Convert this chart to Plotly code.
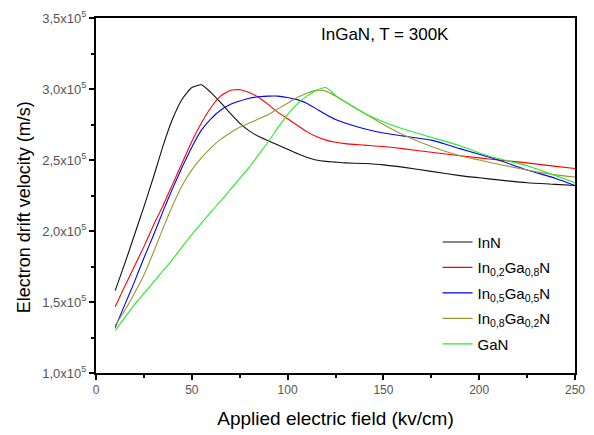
import plotly.graph_objects as go

# Electron drift velocity vs applied field for InGaN alloys at 300 K
# velocities in units of 1e5 m/s
field = [10, 15, 20, 25, 30, 35, 40, 45, 50, 55, 60, 65, 70, 75, 80, 85, 90, 95, 100,
         105, 110, 115, 120, 125, 130, 140, 150, 160, 175, 190, 200, 210, 225, 240, 250]

v_inn = [1.58, 1.77, 1.97, 2.17, 2.38, 2.60, 2.79, 2.93, 3.01, 3.03, 2.975, 2.905, 2.83,
         2.76, 2.705, 2.665, 2.635, 2.605, 2.575, 2.545, 2.52, 2.50, 2.49, 2.485, 2.48,
         2.475, 2.466, 2.45, 2.42, 2.39, 2.375, 2.36, 2.34, 2.328, 2.32]

v_in02 = [1.466, 1.61, 1.75, 1.89, 2.04, 2.18, 2.33, 2.48, 2.63, 2.76, 2.87, 2.95, 2.99,
          2.995, 2.975, 2.94, 2.89, 2.835, 2.79, 2.745, 2.70, 2.665, 2.64, 2.625, 2.615,
          2.605, 2.595, 2.58, 2.555, 2.53, 2.515, 2.50, 2.48, 2.455, 2.44]

v_in05 = [1.32, 1.48, 1.64, 1.81, 1.97, 2.14, 2.30, 2.45, 2.59, 2.71, 2.79, 2.85, 2.89,
          2.915, 2.935, 2.945, 2.95, 2.95, 2.94, 2.925, 2.90, 2.86, 2.82, 2.785, 2.76,
          2.72, 2.69, 2.67, 2.64, 2.58, 2.54, 2.50, 2.43, 2.37, 2.32]

v_in08 = [1.335, 1.44, 1.56, 1.69, 1.85, 2.02, 2.18, 2.32, 2.43, 2.515, 2.585, 2.645, 2.69,
          2.73, 2.76, 2.79, 2.82, 2.86, 2.90, 2.94, 2.97, 2.99, 2.985, 2.95, 2.91, 2.83,
          2.75, 2.68, 2.595, 2.53, 2.50, 2.47, 2.43, 2.395, 2.38]

v_gan = [1.30, 1.39, 1.48, 1.56, 1.64, 1.72, 1.80, 1.89, 1.975, 2.055, 2.135, 2.21, 2.29,
         2.37, 2.45, 2.54, 2.63, 2.73, 2.82, 2.895, 2.95, 2.99, 3.01, 2.955, 2.91, 2.83,
         2.77, 2.72, 2.66, 2.60, 2.55, 2.51, 2.46, 2.39, 2.34]

series_names = ["InN",
                "In<sub>0,2</sub>Ga<sub>0,8</sub>N",
                "In<sub>0,5</sub>Ga<sub>0,5</sub>N",
                "In<sub>0,8</sub>Ga<sub>0,2</sub>N",
                "GaN"]
series_colors = ["#111111", "#ff0000", "#0000ff", "#999933", "#22ee22"]

y_tickvals = [1.0, 1.5, 2.0, 2.5, 3.0, 3.5]
y_ticktext = ["1,0x10<sup>5</sup>", "1,5x10<sup>5</sup>", "2,0x10<sup>5</sup>",
              "2,5x10<sup>5</sup>", "3,0x10<sup>5</sup>", "3,5x10<sup>5</sup>"]
x_tickvals = [0, 50, 100, 150, 200, 250]

VEL_UNIT = 1e5

fig = go.Figure()
for i, (vs, name, color) in enumerate(zip(
        [v_inn, v_in02, v_in05, v_in08, v_gan], series_names, series_colors)):
    fig.add_trace(go.Scatter(
        x=field, y=[v * VEL_UNIT for v in vs], mode="lines", name=name,
        legendgroup=f"g{i}",
        line=dict(color=color, width=1.1, shape="spline", smoothing=0.5),
    ))

font_family = "Liberation Sans, Arial, sans-serif"

fig.update_layout(
    width=594, height=435,
    margin=dict(l=96, r=9, t=16, b=54),
    paper_bgcolor="white", plot_bgcolor="white",
    font=dict(family=font_family, color="black"),
    showlegend=True,
    legend=dict(
        x=0.713, y=0.415, xanchor="left", yanchor="top",
        bgcolor="rgba(0,0,0,0)", borderwidth=0,
        font=dict(size=15, color="black"),
        tracegroupgap=3, itemwidth=30,
    ),
    annotations=[
        dict(text="InGaN, T = 300K", xref="paper", yref="paper",
             x=0.604, y=0.953, xanchor="center", yanchor="middle",
             showarrow=False, font=dict(size=17, color="black")),
        dict(text="Electron drift velocity (m/s)", xref="paper", yref="paper",
             x=-0.151, y=0.466, xanchor="center", yanchor="middle", textangle=-90,
             showarrow=False, font=dict(size=18, color="black")),
    ],
)

fig.update_xaxes(
    range=[0, 250], tickvals=x_tickvals,
    ticks="outside", ticklen=5, tickwidth=1.5, tickcolor="black",
    minor=dict(dtick=25, ticks="outside", ticklen=3, tickwidth=1.5, tickcolor="black"),
    showline=True, linewidth=2, linecolor="black", mirror=True,
    showgrid=False, zeroline=False,
    tickfont=dict(size=12, color="#555555"),
    title=dict(text="Applied electric field (kv/cm)", font=dict(size=19), standoff=15),
)

fig.update_yaxes(
    range=[1.0 * VEL_UNIT, 3.5 * VEL_UNIT],
    tickvals=[v * VEL_UNIT for v in y_tickvals], ticktext=y_ticktext,
    ticks="outside", ticklen=5, tickwidth=1.5, tickcolor="black",
    minor=dict(dtick=0.25 * VEL_UNIT, ticks="outside", ticklen=3, tickwidth=1.5,
               tickcolor="black"),
    showline=True, linewidth=2, linecolor="black", mirror=True,
    showgrid=False, zeroline=False,
    tickfont=dict(size=13, color="#555555"),
)

fig.write_html("out.html")
